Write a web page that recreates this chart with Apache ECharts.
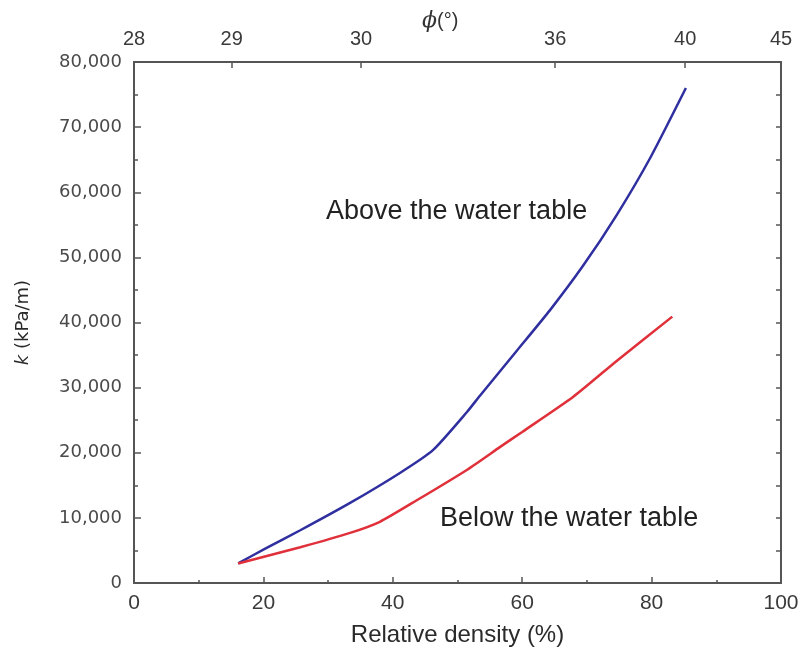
<!DOCTYPE html>
<html>
<head>
<meta charset="utf-8">
<script src="https://cdn.jsdelivr.net/npm/echarts@6/dist/echarts.min.js"></script>
<style>
  html, body { margin: 0; padding: 0; background: #fff; }
  #chart { width: 802px; height: 660px; }
</style>
</head>
<body>
<div id="chart"></div>
<script>
// Relative density (%) and subgrade reaction k (kPa/m), above the water table
const aboveDr = [16.1, 20.5, 25.7, 33.4, 41.1, 46.2, 51.5, 53.5, 59.2, 64.3, 69.4, 74.6, 79.8, 85.3];
const aboveK  = [3000, 5400, 8100, 12300, 16900, 20400, 26300, 28800, 35700, 41900, 48700, 56500, 65300, 76000];

// Below the water table
const belowDr = [16.1, 25.7, 33.4, 38.0, 43.7, 51.5, 56.6, 60.0, 67.9, 74.6, 83.2];
const belowK  = [3000, 5500, 7700, 9400, 12700, 17400, 20900, 23200, 28600, 34100, 40900];

// Friction angle scale along the top edge: density position -> angle label
const phiPos    = [0, 15.1, 35.1, 65.1, 85.2, 100];
const phiLabels = ['28', '29', '30', '36', '40', '45'];

const pairs = (xs, ys) => xs.map((x, i) => [x, ys[i]]);

const axisGrey = '#555';
const labelGrey = '#3a3a3a';
const frameLine = { show: true, onZero: false, lineStyle: { color: axisGrey, width: 2 } };

const chart = echarts.init(document.getElementById('chart'));
chart.setOption({
  animation: false,
  backgroundColor: '#fff',
  grid: { left: 134, right: 21, top: 62, bottom: 77, containLabel: false },
  xAxis: [
    {
      type: 'value', position: 'bottom', min: 0, max: 100, interval: 20,
      axisLine: frameLine,
      axisTick: { inside: true, length: 6, lineStyle: { color: axisGrey, width: 1.5 } },
      minorTick: { show: true, splitNumber: 2, length: 3, lineStyle: { color: axisGrey, width: 1.5 } },
      splitLine: { show: false },
      axisLabel: { fontFamily: 'Liberation Sans', fontSize: 21, color: labelGrey, margin: 10 },
      name: 'Relative density (%)', nameLocation: 'middle', nameGap: 40,
      nameTextStyle: { fontFamily: 'Liberation Sans', fontSize: 24, color: '#2a2a2a' }
    },
    {
      type: 'value', position: 'top', min: 0, max: 100,
      axisLine: frameLine,
      axisTick: { inside: true, length: 6, customValues: phiPos, lineStyle: { color: axisGrey, width: 1.5 } },
      splitLine: { show: false },
      axisLabel: {
        customValues: phiPos,
        formatter: v => phiLabels[phiPos.indexOf(v)],
        fontFamily: 'Liberation Sans', fontSize: 20, color: labelGrey, margin: 13
      }
    }
  ],
  yAxis: [
    {
      type: 'value', position: 'left', min: 0, max: 80000, interval: 10000,
      axisLine: frameLine,
      axisTick: { inside: true, length: 7, lineStyle: { color: axisGrey, width: 1.5 } },
      minorTick: { show: true, splitNumber: 2, length: 4, lineStyle: { color: axisGrey, width: 1.5 } },
      splitLine: { show: false },
      axisLabel: {
        formatter: v => v.toLocaleString('en-US'),
        fontFamily: 'DejaVu Sans', fontSize: 18, color: '#4a4a4a', margin: 12
      },
      name: '{i|k} (kPa/m)', nameLocation: 'middle', nameRotate: 90, nameGap: 102,
      nameTextStyle: {
        fontFamily: 'DejaVu Sans', fontSize: 18, color: '#2a2a2a',
        rich: { i: { fontFamily: 'DejaVu Sans', fontStyle: 'italic', fontSize: 18, color: '#2a2a2a' } }
      }
    },
    {
      type: 'value', position: 'right', min: 0, max: 80000, interval: 5000,
      axisLine: frameLine,
      axisTick: { inside: true, length: 5, lineStyle: { color: axisGrey, width: 1.5 } },
      splitLine: { show: false },
      axisLabel: { show: false }
    }
  ],
  series: [
    {
      name: 'Above the water table', type: 'line', xAxisIndex: 0, yAxisIndex: 0,
      data: pairs(aboveDr, aboveK), showSymbol: false, smooth: 0.2,
      lineStyle: { color: '#2f2fa0', width: 2.5 }
    },
    {
      name: 'Below the water table', type: 'line', xAxisIndex: 0, yAxisIndex: 0,
      data: pairs(belowDr, belowK), showSymbol: false, smooth: 0.2,
      lineStyle: { color: '#e0303a', width: 2.5 }
    }
  ],
  graphic: [
    {
      type: 'text', left: 326, top: 198,
      style: { text: 'Above the water table', fontFamily: 'Liberation Sans', fontSize: 27, fill: '#222' }
    },
    {
      type: 'text', left: 440, top: 505,
      style: { text: 'Below the water table', fontFamily: 'Liberation Sans', fontSize: 27, fill: '#222' }
    },
    {
      type: 'text', left: 422, top: 10,
      style: {
        text: '{p|ϕ}{s|(°)}',
        rich: {
          p: { fontFamily: 'DejaVu Serif', fontStyle: 'italic', fontSize: 22, fill: '#333' },
          s: { fontFamily: 'Liberation Sans', fontSize: 20, fill: '#333' }
        }
      }
    }
  ]
});
</script>
</body>
</html>
